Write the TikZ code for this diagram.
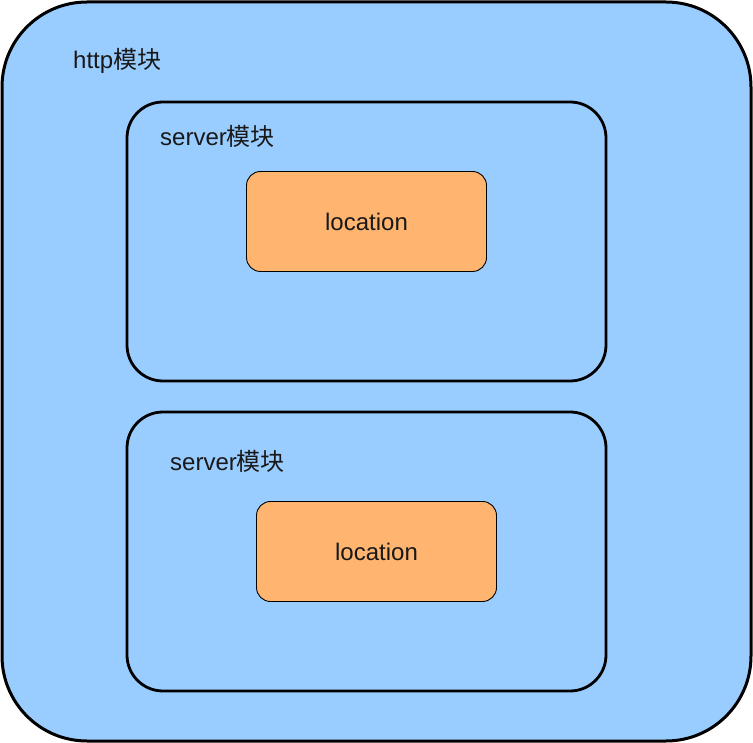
\documentclass[tikz,border=0pt]{standalone}
\usepackage{fontspec}
\setmainfont{Liberation Sans}
\newfontfamily\cjk{Noto Sans CJK SC}
\definecolor{boxblue}{HTML}{99CCFF}
\definecolor{locorange}{HTML}{FFB570}
\begin{document}
\begin{tikzpicture}[x=1pt,y=-1pt,
  outerbox/.style={draw=black,line width=3pt,fill=boxblue,rounded corners=85pt},
  serverbox/.style={draw=black,line width=2.8pt,fill=boxblue,rounded corners=36pt},
  locbox/.style={draw=black,line width=0.9pt,fill=locorange,rounded corners=14pt},
  lbl/.style={font=\fontsize{24}{28}\selectfont,text=black!90,inner sep=0pt}]
\useasboundingbox (0,0) rectangle (753,743);
\draw[outerbox] (2,2) rectangle (751,741);
\draw[serverbox] (127,102) rectangle (606,381);
\draw[serverbox] (127,412) rectangle (606,691);
\node[locbox,minimum width=240pt,minimum height=100pt] (loc1) at (366.5,221.5) {};
\node[locbox,minimum width=240pt,minimum height=100pt] (loc2) at (376.5,551.5) {};
\node[lbl] (loc1t) at (loc1) {location};
\node[lbl] (loc2t) at (loc2) {location};
\node[lbl,anchor=west] (http) at (73,61) {http{\cjk 模块}};
\node[lbl,anchor=west] (srv1) at (160,136) {server{\cjk 模块}};
\node[lbl,anchor=west] (srv2) at (170,461) {server{\cjk 模块}};
\end{tikzpicture}
\end{document}
